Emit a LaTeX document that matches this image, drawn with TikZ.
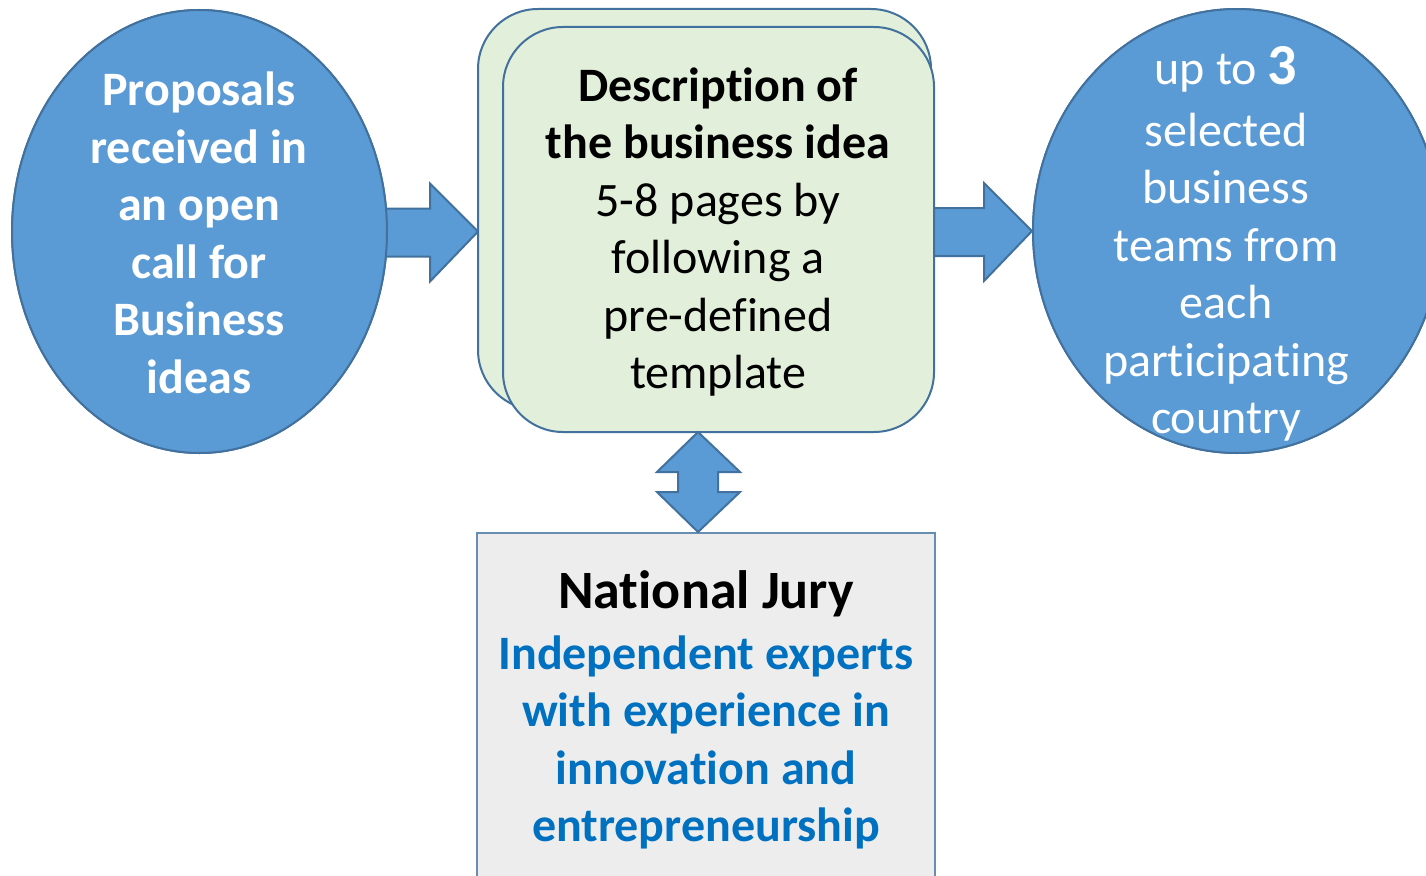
\documentclass[tikz,border=0pt]{standalone}
\usepackage{fontspec}
\setmainfont[Ligatures=NoCommon]{Carlito}
\usetikzlibrary{shapes.geometric,calc}
\definecolor{fillblue}{HTML}{5B9BD5}
\definecolor{edgeblue}{HTML}{41719C}
\definecolor{fillgreen}{HTML}{E2EFDA}
\definecolor{fillgrey}{HTML}{EDEDED}
\definecolor{textblue}{HTML}{0070C0}
\tikzset{
  bluedisc/.style={ellipse, draw=edgeblue, fill=fillblue, line width=2pt, inner sep=0pt},
  greenbox/.style={draw=edgeblue, fill=fillgreen, line width=2pt, rounded corners=60pt},
  jurybox/.style={draw=edgeblue!80, fill=fillgrey, line width=2pt},
  blockarrow/.style={draw=edgeblue, fill=fillblue, line width=2pt, line join=miter},
  bodytext/.style={align=center, inner sep=0pt, font=\fontsize{48}{57.5}\selectfont},
}
\begin{document}
\begin{tikzpicture}[x=1pt,y=-1pt]
\useasboundingbox (0,0) rectangle (1426,875);
% nodes (shapes)
\node[bluedisc, minimum width=375pt, minimum height=443pt] (L) at (199.5,231.5) {};
\node[bluedisc, minimum width=408pt, minimum height=444pt] (R) at (1237,231) {};
\coordinate (backNW) at (478,9);
\coordinate (backSE) at (931,410);
\coordinate (frontNW) at (503,27);
\coordinate (frontSE) at (934,432);
\coordinate (juryNW) at (477,533);
\coordinate (jurySE) at (935,900);
% arrows (behind boxes)
\draw[blockarrow] (L.east -| backNW) -- ++(-48,-48) -- ++(0,25) -- ++(-60,0) -- ++(0,48) -- ++(60,0) -- ++(0,25) -- cycle;
\draw[blockarrow] (R.west) -- ++(-48,-48) -- ++(0,25) -- ++(-60,0) -- ++(0,48) -- ++(60,0) -- ++(0,25) -- cycle;
\node[bluedisc, minimum width=375pt, minimum height=443pt] (L2) at (L.center) {};
\node[bluedisc, minimum width=408pt, minimum height=444pt] (R2) at (R.center) {};
% middle boxes
\draw[greenbox] (backNW) rectangle (backSE);
\draw[greenbox] (frontNW) rectangle (frontSE);
\node[draw=none, minimum width=431pt, minimum height=405pt, inner sep=0pt] (front) at ($(frontNW)!0.5!(frontSE)$) {};
% jury box
\draw[jurybox] (juryNW) rectangle (jurySE);
\node[minimum width=458pt, minimum height=367pt, inner sep=0pt] (jury) at ($(juryNW)!0.5!(jurySE)$) {};
% vertical double arrow
\coordinate (vtop) at (698,432);
\coordinate (vbot) at (698,532);
\draw[blockarrow] (vtop) -- (740,472) -- (718,472) -- (718,492) -- (740,492) -- (vbot) -- (657,492) -- (678,492) -- (678,472) -- (657,472) -- cycle;
% texts
\node[bodytext, text=white, font=\fontsize{48}{57.5}\selectfont\bfseries] (Ltxt) at (199,233)
  {Proposals\\received in\\an open\\call for\\Business\\ideas};
\node[bodytext] (Mtxt) at (718,232)
  {\textbf{Description of}\\\textbf{the business idea}\\5-8 pages by\\following a\\pre-defined\\template};
\node[bodytext, text=white] (Rtxt) at (1226,244)
  {up to {\fontsize{58}{57.5}\selectfont\bfseries 3}\\[4pt]selected\\business\\teams from\\each\\participating\\country};
\node[bodytext, font=\fontsize{48}{57.5}\selectfont\bfseries] (Jtxt) at (706,710)
  {{\fontsize{54}{57.5}\selectfont National Jury}\\[3pt]
   \textcolor{textblue}{Independent experts}\\\textcolor{textblue}{with experience in}\\\textcolor{textblue}{innovation and}\\\textcolor{textblue}{entrepreneurship}};
\end{tikzpicture}
\end{document}
